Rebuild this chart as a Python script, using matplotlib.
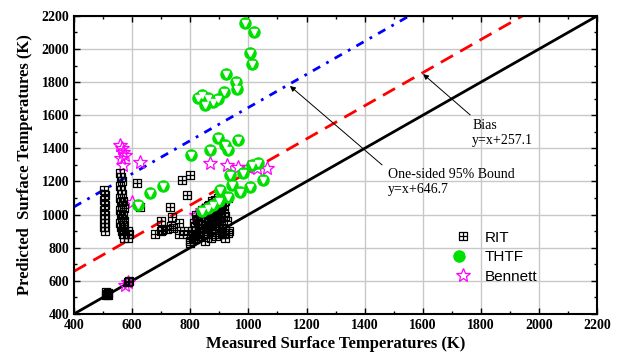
import numpy as np
import matplotlib.pyplot as plt
from matplotlib.path import Path
from matplotlib.legend_handler import HandlerTuple

# RIT points (measured, predicted)
rit_x = [505, 508, 505, 508, 505, 508, 505, 508, 505, 508,
         560, 563, 566, 560, 563, 566, 560, 563, 566, 560, 563, 566, 560, 563, 566,
         570, 573, 570, 573, 570, 573, 570, 573,
         586, 588, 586,
         617, 627, 730, 772, 799, 789, 737, 703,
         510, 513, 516, 510, 513, 516, 586, 590,
         680, 700, 720, 740, 760, 780, 700, 735, 760, 790, 810,
         800, 810, 820, 830, 840, 850, 860, 870, 880, 890, 900, 910, 920, 930,
         805, 815, 825, 835, 845, 855, 865, 875, 885, 895, 905, 915, 925,
         800, 815, 830, 845, 860, 875, 890, 905, 920, 935,
         820, 840, 860, 880, 900, 920, 850, 870, 890, 910, 930,
         825, 835, 845, 855, 865, 875, 885, 895, 905, 915,
         830, 840, 850, 860, 870, 880, 890, 900, 910, 920,
         812, 822, 832, 842, 852, 862, 872, 882, 892, 902]
rit_y = [1150, 1120, 1090, 1060, 1030, 1000, 975, 950, 925, 900,
         1250, 1225, 1200, 1175, 1150, 1125, 1100, 1075, 1050, 1025, 1000, 975, 950, 925, 900,
         1080, 1040, 1000, 960, 940, 910, 880, 860,
         900, 880, 860,
         1191, 1046, 1046, 1209, 1239, 1119, 986, 907,
         515, 520, 525, 530, 520, 515, 593, 600,
         880, 900, 910, 920, 880, 900, 960, 930, 950, 880, 870,
         840, 860, 880, 900, 920, 940, 960, 980, 1000, 1020, 1040, 1060, 1080, 1100,
         900, 930, 960, 990, 1010, 1040, 1060, 1080, 1090, 1100, 1060, 1010, 960,
         830, 850, 870, 890, 910, 930, 950, 970, 990, 900,
         1000, 1030, 1050, 1070, 880, 860, 840, 860, 870, 880, 890,
         870, 890, 910, 930, 950, 970, 990, 1010, 1030, 1050,
         920, 940, 960, 980, 1000, 1020, 1040, 940, 920, 900,
         950, 970, 990, 1010, 1030, 900, 920, 940, 960, 980]

# THTF points
thtf_x = [988, 1019, 1006, 1013, 923, 957, 961, 916, 896, 840, 861, 851, 878, 827,
          803, 895, 920, 964, 868, 930,
          937, 981, 1013, 1033, 1050, 944, 971, 1006, 930, 902,
          662, 706, 620, 860, 880, 900, 840]
thtf_y = [2157, 2103, 1976, 1910, 1849, 1801, 1759, 1741, 1698, 1722, 1704, 1662, 1680, 1704,
          1360, 1463, 1420, 1451, 1390, 1390,
          1239, 1251, 1300, 1312, 1209, 1179, 1137, 1167, 1107, 1149,
          1131, 1173, 1058, 1040, 1060, 1080, 1020]

# Bennett points
ben_x = [560, 565, 570, 575, 562, 568, 627, 600, 868, 926, 964, 1030, 1064, 1000,
         840, 900, 820, 575, 585]
ben_y = [1420, 1400, 1380, 1360, 1340, 1300, 1318, 1076, 1312, 1300, 1288, 1282, 1282, 1290,
         1030, 960, 1000, 575, 590]

line_x = [400, 2200]
bias = 257.1
bound = 646.7

plt.rcParams['font.family'] = 'Liberation Serif'

fig = plt.figure(figsize=(6.18, 3.6), dpi=100)
ax = fig.add_axes([0.1197, 0.128, 0.8466, 0.8278])

# square with a cross
verts = [(-1, -1), (1, -1), (1, 1), (-1, 1), (-1, -1), (0, -1), (0, 1), (-1, 0), (1, 0)]
codes = [Path.MOVETO, Path.LINETO, Path.LINETO, Path.LINETO, Path.CLOSEPOLY,
         Path.MOVETO, Path.LINETO, Path.MOVETO, Path.LINETO]
sq_plus = Path(verts, codes)

ax.plot(line_x, line_x, color='black', lw=2, zorder=2)
ax.plot(line_x, [v + bias for v in line_x], color='red', lw=2,
        dashes=(5, 3), zorder=2)
ax.plot(line_x, [v + bound for v in line_x], color='blue', lw=2,
        dashes=(3, 2.5, 1, 2.5), zorder=2)

h_b, = ax.plot(ben_x, ben_y, ls='none', marker='*', ms=10, mfc='none',
               mec='magenta', mew=0.9, zorder=3)
h_rit, = ax.plot(rit_x, rit_y, ls='none', marker=sq_plus, ms=6, mfc='none',
                 mec='black', mew=0.9, zorder=4)
h_c, = ax.plot(thtf_x, thtf_y, ls='none', marker='o', ms=8, mfc='#00e000',
               mec='#00e000', zorder=5)
h_t, = ax.plot(thtf_x, thtf_y, ls='none', marker='v', ms=4, mfc='white',
               mec='white', zorder=5)

ax.set_xlim(400, 2200)
ax.set_ylim(400, 2200)
ax.set_xticks(np.arange(400, 2201, 200))
ax.set_yticks(np.arange(400, 2201, 200))
ax.set_xticks(np.arange(400, 2201, 100), minor=True)
ax.set_yticks(np.arange(400, 2201, 100), minor=True)
ax.grid(True, which='major', color='#c8c8c8', lw=1)
ax.set_axisbelow(True)
ax.tick_params(which='both', direction='in', top=True, right=True)
ax.tick_params(which='major', length=4, width=1)
ax.tick_params(which='minor', length=2, width=1)
for lab in ax.get_xticklabels() + ax.get_yticklabels():
    lab.set_fontweight('bold')
    lab.set_fontsize(10)
for s in ax.spines.values():
    s.set_linewidth(1.5)

ax.set_xlabel('Measured Surface Temperatures (K)', fontsize=12, fontweight='bold', labelpad=3)
ax.set_ylabel('Predicted  Surface Temperatures (K)', fontsize=12, fontweight='bold', labelpad=6)

ax.text(1480, 1197, 'One-sided 95% Bound\ny=x+646.7', fontsize=10, va='center', ha='left')
ax.annotate('', xy=(1143, 1777), xytext=(1460, 1300),
            arrowprops=dict(arrowstyle='-|>', color='black', lw=0.7,
                            mutation_scale=8, shrinkA=0, shrinkB=0))
ax.text(1770, 1493, 'Bias\ny=x+257.1', fontsize=10, va='center', ha='left')
ax.annotate('', xy=(1601, 1849), xytext=(1763, 1602),
            arrowprops=dict(arrowstyle='-|>', color='black', lw=0.7,
                            mutation_scale=8, shrinkA=0, shrinkB=0))

ax.legend([h_rit, (h_c, h_t), h_b], ['RIT', 'THTF', 'Bennett'],
          handler_map={tuple: HandlerTuple(ndivide=None, pad=0)},
          loc='upper left', bbox_to_anchor=(0.70, 0.325), frameon=False,
          prop={'family': 'Liberation Sans', 'size': 11},
          handlelength=1.2, handletextpad=0.8, labelspacing=0.35)

fig.savefig('out.png', dpi=100)
